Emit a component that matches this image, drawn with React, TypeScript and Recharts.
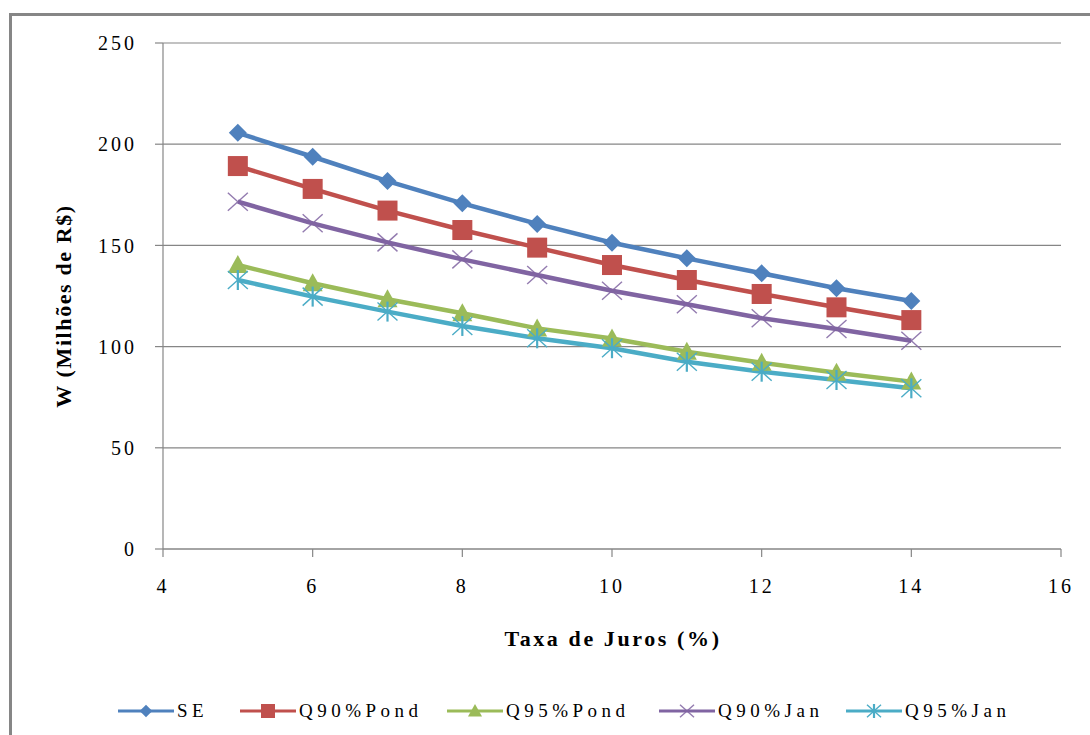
import React from "react";
import { LineChart, Line, XAxis, YAxis, CartesianGrid, Label } from "recharts";

const xValues = [5, 6, 7, 8, 9, 10, 11, 12, 13, 14];
const se = [205.6, 193.8, 181.8, 170.8, 160.6, 151.3, 143.6, 136.2, 128.8, 122.5];
const q90Pond = [189.2, 177.9, 167.2, 157.6, 148.9, 140.3, 132.9, 126.0, 119.4, 113.1];
const q95Pond = [140.3, 131.3, 123.4, 116.5, 109.0, 104.0, 97.5, 92.0, 87.1, 82.7];
const q90Jan = [171.6, 160.9, 151.5, 143.1, 135.4, 127.6, 120.9, 114.0, 108.7, 102.9];
const q95Jan = [132.9, 124.7, 117.3, 110.2, 104.1, 99.2, 92.5, 87.6, 83.5, 79.4];

const xTicks = [4, 6, 8, 10, 12, 14, 16];
const yTicks = [0, 50, 100, 150, 200, 250];

const seriesNames = ["SE", "Q90%Pond", "Q95%Pond", "Q90%Jan", "Q95%Jan"];
const seriesKeys = ["se", "q90Pond", "q95Pond", "q90Jan", "q95Jan"];
const seriesColors = ["#4F81BD", "#C0504D", "#9BBB59", "#8064A2", "#4BACC6"];
const seriesShapes = ["diamond", "square", "triangle", "x", "star"];

const data = xValues.map((x, i) => ({
  x,
  se: se[i],
  q90Pond: q90Pond[i],
  q95Pond: q95Pond[i],
  q90Jan: q90Jan[i],
  q95Jan: q95Jan[i],
}));

const FONT = "'Liberation Serif', 'DejaVu Serif', serif";
const GRAY = "#868686";

function Marker({ shape, cx, cy, color, scale = 1 }: any) {
  const s = scale;
  if (shape === "diamond") {
    const r = 9 * s;
    return <polygon points={`${cx},${cy - r} ${cx + r},${cy} ${cx},${cy + r} ${cx - r},${cy}`} fill={color} />;
  }
  if (shape === "square") {
    const h = 10 * s;
    return <rect x={cx - h} y={cy - h} width={2 * h} height={2 * h} fill={color} />;
  }
  if (shape === "triangle") {
    return (
      <polygon
        points={`${cx},${cy - 10 * s} ${cx + 10 * s},${cy + 8 * s} ${cx - 10 * s},${cy + 8 * s}`}
        fill={color}
      />
    );
  }
  if (shape === "x") {
    const a = 10 * s;
    const b = 9 * s;
    return (
      <g stroke={color} strokeWidth={1.4} opacity={0.85}>
        <line x1={cx - a} y1={cy - b} x2={cx + a} y2={cy + b} />
        <line x1={cx - a} y1={cy + b} x2={cx + a} y2={cy - b} />
      </g>
    );
  }
  const a = 10 * s;
  const b = 9 * s;
  return (
    <g stroke={color}>
      <line x1={cx - a} y1={cy - b} x2={cx + a} y2={cy + b} strokeWidth={1.4} />
      <line x1={cx - a} y1={cy + b} x2={cx + a} y2={cy - b} strokeWidth={1.4} />
      <line x1={cx} y1={cy - 10 * s} x2={cx} y2={cy + 10 * s} strokeWidth={2.2} />
    </g>
  );
}

const legendLefts = [118, 240, 447, 659, 846];

export default function App() {
  return (
    <div
      style={{
        position: "absolute",
        left: 0,
        top: 0,
        width: 1090,
        height: 735,
        overflow: "hidden",
        background: "#fff",
        fontFamily: FONT,
      }}
    >
      <div
        style={{
          position: "absolute",
          left: 9,
          top: 13,
          width: 1200,
          height: 800,
          borderLeft: `3px solid ${GRAY}`,
          borderTop: `3px solid ${GRAY}`,
        }}
      />
      <div style={{ position: "absolute", left: 0, top: 0 }}>
        <LineChart
          width={1090}
          height={735}
          data={data}
          margin={{ top: 43, right: 29, bottom: 86, left: 63 }}
          style={{ fontFamily: FONT }}
        >
          <CartesianGrid horizontal={true} vertical={false} stroke={GRAY} strokeWidth={1.2} />
          <XAxis
            dataKey="x"
            type="number"
            domain={[4, 16]}
            ticks={xTicks}
            interval={0}
            height={100}
            tickSize={8}
            tickMargin={22}
            stroke={GRAY}
            axisLine={{ stroke: GRAY, strokeWidth: 1.2 }}
            tickLine={{ stroke: GRAY, strokeWidth: 1.2 }}
            tick={{ fill: "#000", fontSize: 20, fontFamily: FONT, letterSpacing: 3 }}
          >
            <Label
              content={() => (
                <text
                  x={613}
                  y={646}
                  textAnchor="middle"
                  fontFamily={FONT}
                  fontWeight="bold"
                  fontSize={22}
                  letterSpacing={2.6}
                  fill="#000"
                >
                  Taxa de Juros (%)
                </text>
              )}
            />
          </XAxis>
          <YAxis
            type="number"
            domain={[0, 250]}
            ticks={yTicks}
            interval={0}
            width={100}
            tickSize={8}
            tickMargin={18}
            stroke={GRAY}
            axisLine={{ stroke: GRAY, strokeWidth: 1.2 }}
            tickLine={{ stroke: GRAY, strokeWidth: 1.2 }}
            tick={{ fill: "#000", fontSize: 20, fontFamily: FONT, letterSpacing: 3 }}
          >
            <Label
              content={() => (
                <text
                  x={0}
                  y={0}
                  transform="translate(71, 306) rotate(-90)"
                  textAnchor="middle"
                  fontFamily={FONT}
                  fontWeight="bold"
                  fontSize={22}
                  letterSpacing={1.6}
                  fill="#000"
                >
                  W (Milhões de R$)
                </text>
              )}
            />
          </YAxis>
          {seriesKeys.map((k, si) => (
            <Line
              key={k}
              type="linear"
              dataKey={k}
              name={seriesNames[si]}
              stroke={seriesColors[si]}
              strokeWidth={4.5}
              isAnimationActive={false}
              activeDot={false}
              dot={(p: any) => (
                <Marker
                  key={`${k}-${p.index}`}
                  shape={seriesShapes[si]}
                  cx={p.cx}
                  cy={p.cy}
                  color={seriesColors[si]}
                />
              )}
            />
          ))}
        </LineChart>
      </div>
      {seriesNames.map((n, i) => (
        <div
          key={n}
          style={{
            position: "absolute",
            left: legendLefts[i],
            top: 699,
            height: 24,
            display: "flex",
            alignItems: "center",
            whiteSpace: "nowrap",
          }}
        >
          <svg width={56} height={24} style={{ display: "block" }}>
            <line x1={0} y1={12} x2={56} y2={12} stroke={seriesColors[i]} strokeWidth={3} />
            <Marker shape={seriesShapes[i]} cx={28} cy={12} color={seriesColors[i]} scale={0.7} />
          </svg>
          <span
            style={{
              fontFamily: FONT,
              fontSize: 19,
              letterSpacing: 4.5,
              color: "#000",
              marginLeft: 3,
              lineHeight: "24px",
            }}
          >
            {n}
          </span>
        </div>
      ))}
    </div>
  );
}
